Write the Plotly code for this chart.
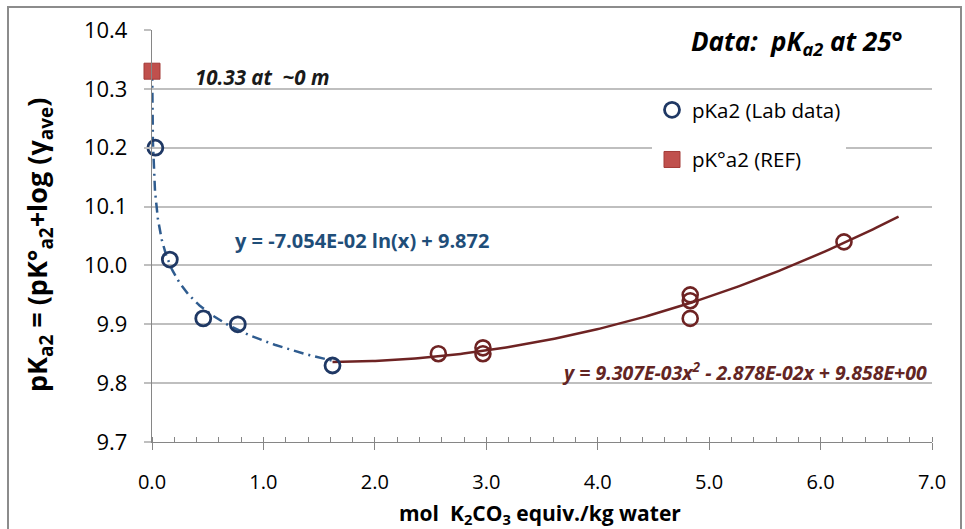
import numpy as np
import plotly.graph_objects as go

# Lab measurements, dilute branch (log fit) and concentrated branch (quadratic fit)
lab_x = [0.03, 0.16, 0.46, 0.77, 1.62]
lab_y = [10.20, 10.01, 9.91, 9.90, 9.83]
conc_x = [2.57, 2.97, 2.97, 4.83, 4.83, 4.83, 6.21]
conc_y = [9.85, 9.86, 9.85, 9.95, 9.94, 9.91, 10.04]

# Reference thermodynamic value
ref_x = [0.0]
ref_y = [10.33]

# Trendline coefficients (as printed on the chart)
log_a, log_b = -7.054e-02, 9.872
quad_a, quad_b, quad_c = 9.307e-03, -2.878e-02, 9.858e+00
log_span = (0.0015, 1.62)
quad_span = (1.62, 6.70)

x_ticks = [0, 1, 2, 3, 4, 5, 6, 7]
y_ticks = [9.7, 9.8, 9.9, 10.0, 10.1, 10.2, 10.3, 10.4]

FONT = "Open Sans"
BLUE = "#1F3864"
BLUE_LINE = "#2F5C8F"
BROWN = "#6E2323"
RED = "#C0504D"
GRID = "#BFBFBF"

tx_log = np.geomspace(*log_span, 200)
ty_log = log_a * np.log(tx_log) + log_b
tx_q = np.linspace(*quad_span, 200)
ty_q = quad_a * tx_q**2 + quad_b * tx_q + quad_c

fig = go.Figure()

fig.add_trace(go.Scatter(x=tx_log, y=ty_log, mode="lines", showlegend=False,
                         line=dict(color=BLUE_LINE, width=2.5, dash="10px,5px,2px,5px"),
                         hoverinfo="skip"))
fig.add_trace(go.Scatter(x=tx_q, y=ty_q, mode="lines", showlegend=False,
                         line=dict(color=BROWN, width=2.5), hoverinfo="skip"))

fig.add_trace(go.Scatter(x=lab_x, y=lab_y, mode="markers", name="pKa2 (Lab data)",
                         legendgroup="a", cliponaxis=False,
                         marker=dict(symbol="circle-open", size=15, color=BLUE,
                                     line=dict(width=2.8, color=BLUE))))
fig.add_trace(go.Scatter(x=conc_x, y=conc_y, mode="markers", showlegend=False,
                         cliponaxis=False,
                         marker=dict(symbol="circle-open", size=15, color=BROWN,
                                     line=dict(width=2.6, color=BROWN))))
fig.add_trace(go.Scatter(x=ref_x, y=ref_y, mode="markers", name="pK°a2 (REF)",
                         legendgroup="b", cliponaxis=False,
                         marker=dict(symbol="square", size=16, color=RED,
                                     line=dict(width=1, color="#A33A37"))))

L, R, T, B = 152, 33, 30, 87
W, H = 965, 529
pw, ph = W - L - R, H - T - B


def px(xp):
    return (xp - L) / pw


def py(yp):
    return (H - B - yp) / ph


annotations = [
    dict(text="<b><i>Data:  pK<sub>a2</sub> at 25°</i></b>", x=px(905), y=py(42),
         xanchor="right", yanchor="middle", font=dict(size=26, color="#000000")),
    dict(text="<b><i>10.33 at  ~0 m</i></b>", x=px(193), y=py(77),
         xanchor="left", yanchor="middle", font=dict(size=20.5, color="#1A1A1A")),
    dict(text="<b>y = -7.054E-02 ln(x) + 9.872</b>", x=px(233), y=py(240),
         xanchor="left", yanchor="middle", font=dict(size=20, color="#1F4E79")),
    dict(text="<b><i>y = 9.307E-03x<sup>2</sup> - 2.878E-02x + 9.858E+00</i></b>",
         x=px(929), y=py(371), xanchor="right", yanchor="middle",
         font=dict(size=19.5, color="#632523")),
    dict(text="<b>pK<sub>a2</sub> = (pK°<sub>a2</sub>+log (γ<sub>ave</sub>)</b>",
         x=px(38), y=py(245), textangle=-90, xanchor="center", yanchor="middle",
         font=dict(size=27, color="#000000")),
    dict(text="<b>mol  K<sub>2</sub>CO<sub>3</sub> equiv./kg water</b>",
         x=px(540), y=py(514), xanchor="center", yanchor="middle",
         font=dict(size=21, color="#000000")),
]
for a in annotations:
    a.update(xref="paper", yref="paper", showarrow=False)

fig.update_layout(
    width=W, height=H,
    margin=dict(l=L, r=R, t=T, b=B, pad=0),
    paper_bgcolor="white", plot_bgcolor="white",
    font=dict(family=FONT, color="#000000"),
    annotations=annotations,
    legend=dict(x=px(652), y=py(90), xanchor="left", yanchor="top",
                font=dict(size=20.5, family=FONT, color="#000000"),
                bgcolor="rgba(255,255,255,1)", traceorder="grouped",
                tracegroupgap=20, itemwidth=30),
    shapes=[dict(type="rect", xref="paper", yref="paper",
                 x0=px(8), x1=px(961), y0=py(540), y1=py(7),
                 line=dict(color="#8C8C8C", width=2), layer="below")],
    showlegend=True,
)

fig.update_xaxes(range=[0, 7], tickvals=x_ticks,
                 ticktext=[f"{v:.1f}" for v in x_ticks],
                 showgrid=False, zeroline=False, showline=True,
                 linecolor="#868686", linewidth=1.3,
                 ticks="outside", ticklen=7, tickcolor="#868686", tickwidth=1.3,
                 ticklabelstandoff=15,
                 tickfont=dict(size=20, family=FONT, color="#000000"),
                 minor=dict(dtick=0.2, ticks="inside", ticklen=5,
                            tickcolor="#868686", tickwidth=1.2, showgrid=False))
fig.update_yaxes(range=[9.7, 10.4], tickvals=y_ticks,
                 ticktext=[f"{v:.1f}" for v in y_ticks],
                 showgrid=True, gridcolor=GRID, gridwidth=1.5, zeroline=False,
                 showline=True, linecolor="#868686", linewidth=1.3,
                 ticks="outside", ticklen=7, tickcolor=GRID, tickwidth=1.5,
                 ticklabelstandoff=12,
                 tickfont=dict(size=22, family=FONT, color="#000000"))

fig.write_html("out.html")
